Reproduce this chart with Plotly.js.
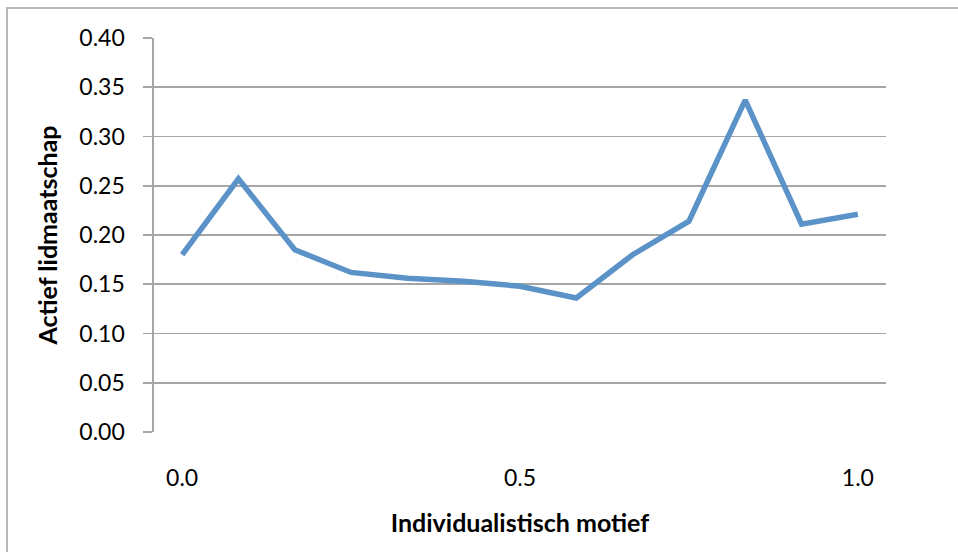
<!DOCTYPE html>
<html>
<head>
<meta charset="utf-8">
<script src="https://cdn.plot.ly/plotly-3.0.1.min.js"></script>
<style>
  html, body { margin: 0; padding: 0; background: #ffffff; }
  #frame { position: absolute; left: 6px; top: 7px; width: 970px; height: 570px; border: 2px solid #b8b8b8; }
  #chart { position: absolute; left: 0; top: 0; width: 958px; height: 552px; }
</style>
</head>
<body>
<div id="frame"></div>
<div id="chart"></div>
<script>
const xValues = [0, 0.0833, 0.1667, 0.25, 0.3333, 0.4167, 0.5, 0.5833, 0.6667, 0.75, 0.8333, 0.9167, 1.0];
const yValues = [0.180, 0.257, 0.185, 0.162, 0.156, 0.153, 0.148, 0.136, 0.180, 0.214, 0.337, 0.211, 0.221];
const xTickVals = [0, 0.5, 1.0];
const xTickText = ["0.0", "0.5", "1.0"];
const yTickVals = [0, 0.05, 0.10, 0.15, 0.20, 0.25, 0.30, 0.35, 0.40];
const yTickText = ["0.00", "0.05", "0.10", "0.15", "0.20", "0.25", "0.30", "0.35", "0.40"];
const xTitle = "Individualistisch motief";
const yTitle = "Actief lidmaatschap";

const gridColor = "#a6a6a6";
const fontFam = "Lato, 'Open Sans', sans-serif";

Plotly.newPlot("chart", [{
  x: xValues,
  y: yValues,
  type: "scatter",
  mode: "lines",
  line: { color: "#5b93c9", width: 5.5 },
  hoverinfo: "skip"
}], {
  width: 958,
  height: 552,
  margin: { l: 154, r: 72, t: 38, b: 120 },
  paper_bgcolor: "rgba(0,0,0,0)",
  plot_bgcolor: "rgba(0,0,0,0)",
  showlegend: false,
  font: { family: fontFam, size: 23, color: "#000000" },
  xaxis: {
    range: [-1/24, 1 + 1/24],
    tickvals: xTickVals,
    ticktext: xTickText,
    showgrid: false,
    zeroline: false,
    showline: false,
    ticks: "",
    ticklabelstandoff: 30,
    tickfont: { family: fontFam, size: 23, color: "#000" },
    title: { text: xTitle, standoff: 24, font: { family: fontFam, size: 25, color: "#000", weight: "bold" } }
  },
  yaxis: {
    range: [0, 0.40],
    tickvals: yTickVals,
    ticktext: yTickText,
    showgrid: true,
    gridcolor: gridColor,
    gridwidth: 1.6,
    zeroline: false,
    showline: true,
    linecolor: gridColor,
    linewidth: 1.6,
    ticks: "outside",
    ticklen: 9,
    tickwidth: 1.6,
    tickcolor: gridColor,
    ticklabelstandoff: 14,
    tickfont: { family: fontFam, size: 23, color: "#000" },
    title: { text: yTitle, standoff: 14, font: { family: fontFam, size: 25, color: "#000", weight: "bold" } }
  }
}, { staticPlot: true, displayModeBar: false });
</script>
</body>
</html>
